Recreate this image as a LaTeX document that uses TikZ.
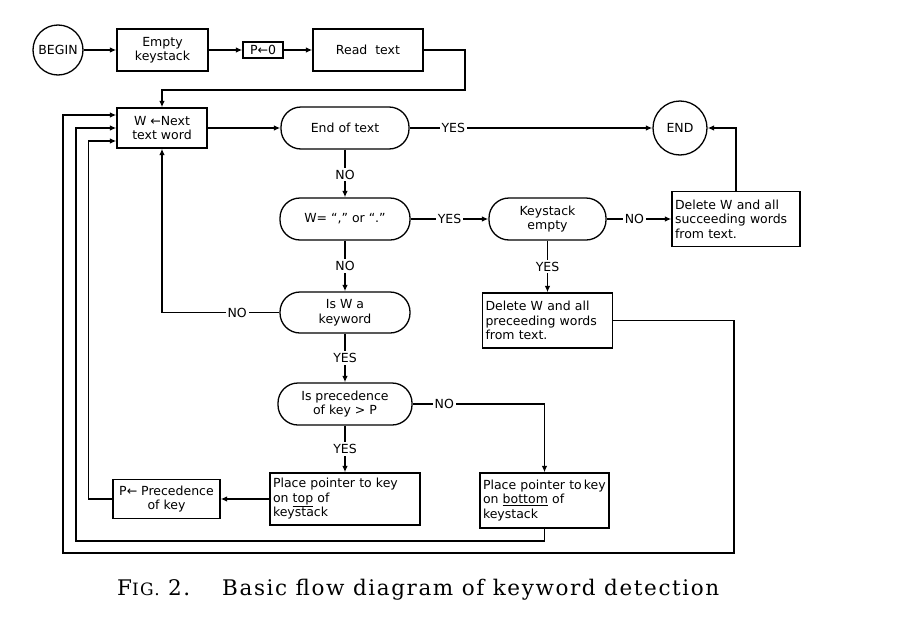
\documentclass[tikz,border=0pt]{standalone}
\usepackage{fontspec}
\setmainfont{DejaVu Sans}
\newfontfamily\capfont[LetterSpace=7.5]{DejaVu Serif}
\usetikzlibrary{arrows.meta}
\begin{document}
\begin{tikzpicture}[x=1pt,y=-1pt,
  every node/.style={font=\fontsize{12.5}{14.5}\selectfont},
  box/.style={draw, line width=1.3pt, inner sep=2pt, align=center},
  lbox/.style={draw, line width=1.3pt, inner xsep=3pt, inner ysep=0pt, align=left},
  term/.style={draw, line width=1.3pt, rounded corners=20pt, inner sep=2pt, align=center},
  circ/.style={draw, circle, line width=1.3pt, inner sep=1pt},
  arr/.style={line width=1.3pt, -{Latex[length=6.5pt,width=5.5pt]}},
  lbl/.style={fill=white, inner sep=2pt}]
\useasboundingbox (0,0) rectangle (902,616);
% nodes
\node[circ, minimum size=50pt] (begin) at (58,50) {BEGIN};
\node[box, minimum width=91pt, minimum height=42pt] (empty) at (162.5,50) {Empty\\keystack};
\node[box, minimum width=40pt, minimum height=16pt, inner sep=1pt] (pd) at (263,50) {P←0};
\node[box, minimum width=110pt, minimum height=42pt] (read) at (368,50) {Read\ \ text};
\node[box, minimum width=90pt, minimum height=40pt] (wnext) at (162,128) {W ←Next\\text word};
\node[term, minimum width=128pt, minimum height=42pt] (eot) at (345,128) {End of text};
\node[circ, minimum size=54pt] (endc) at (680,128) {END};
\node[term, minimum width=130pt, minimum height=42pt] (wcomma) at (345,219) {W= “,” or “.”};
\node[term, minimum width=117pt, minimum height=42pt] (kempty) at (547.5,219) {Keystack\\empty};
\node[lbox, text width=122pt, minimum height=55pt] (delsucc) at (736,219) {Delete W and all\\succeeding words\\from text.};
\node[term, minimum width=130pt, minimum height=41pt] (iskw) at (345,312.5) {Is W a\\keyword};
\node[lbox, text width=124pt, minimum height=55pt] (delprec) at (547.5,320.5) {Delete W and all\\preceeding words\\from text.};
\node[term, minimum width=134pt, minimum height=42pt] (isprec) at (345,404) {Is precedence\\of key > P};
\node[lbox, text width=144pt, minimum height=52pt] (ptop) at (345,499) {Place pointer to key\\on \underline{top} of\\keystack};
\node[box, minimum width=107pt, minimum height=39pt] (pprec) at (166.5,499) {P← Precedence\\of key};
\node[lbox, text width=123pt, minimum height=55pt] (pbot) at (544.5,500.5) {Place pointer to\,key\\on \underline{bottom} of\\keystack};
% helper coordinates
\coordinate (c1) at (465,90);
\coordinate (r1) at (734,553);
\coordinate (r2) at (63,553);
\coordinate (m1) at (76,541);
% connectors
\draw[arr] (begin) -- (empty);
\draw[arr] (empty) -- (pd);
\draw[arr] (pd) -- (read);
\draw[arr] (read.east) -| (c1) -| (wnext.north);
\draw[arr] (wnext) -- (eot);
\draw[arr] (eot.east) -- node[lbl, pos=0.18] {YES} (endc.west);
\draw[arr] (eot.south) -- node[lbl, pos=0.52] {NO} (wcomma.north);
\draw[arr] (wcomma.east) -- node[lbl, pos=0.5] {YES} (kempty.west);
\draw[arr] (kempty.east) -- node[lbl, pos=0.43] {NO} (delsucc.west);
\draw[arr] (delsucc.north) |- (endc.east);
\draw[arr] (kempty.south) -- node[lbl, pos=0.5] {YES} (delprec.north);
\draw[arr] (wcomma.south) -- node[lbl, pos=0.5] {NO} (iskw.north);
\draw[arr] (iskw.west) -- node[lbl, pos=0.36] {NO} (iskw.west -| wnext.south) -- (wnext.south);
\draw[arr] (iskw.south) -- node[lbl, pos=0.5] {YES} (isprec.north);
\draw[arr] (isprec.south) -- node[lbl, pos=0.5] {YES} (ptop.north);
\draw[arr] (isprec.east) -- node[lbl, pos=0.24] {NO} (isprec.east -| pbot.north) -- (pbot.north);
\draw[arr] (ptop.west) -- (pprec.east);
\draw[arr] (pprec.west) -- ++(-24,0) |- ([yshift=-13pt]wnext.west);
\draw[arr] (pbot.south) |- (m1) |- (wnext.west);
\draw[arr] (delprec.east) -| (r1) -- (r2) |- ([yshift=13pt]wnext.west);
% caption
\node[anchor=base west, inner sep=0pt, font=\capfont\fontsize{21.5}{24}\selectfont] (fig) at (117,595)
  {F{\fontsize{17}{20}\selectfont IG.} 2.};
\node[anchor=base west, inner sep=0pt, font=\capfont\fontsize{21.5}{24}\selectfont] (cap) at (222,595)
  {Basic flow diagram of keyword detection};
\end{tikzpicture}
\end{document}
